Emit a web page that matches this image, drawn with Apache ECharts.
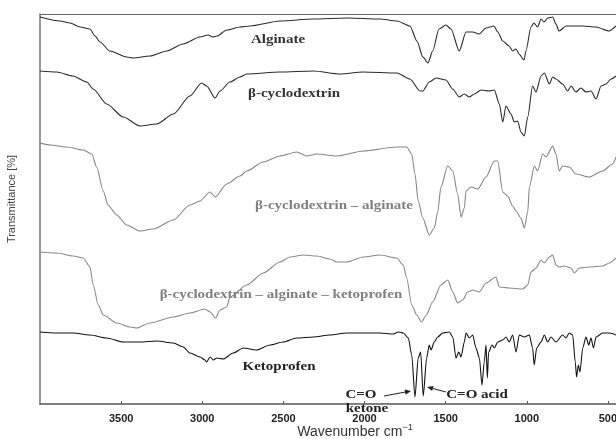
<!DOCTYPE html>
<html>
<head>
<meta charset="utf-8">
<script src="https://cdn.jsdelivr.net/npm/echarts@6/dist/echarts.min.js"></script>
<style>
html,body{margin:0;padding:0;background:#fff;}
#chart{width:616px;height:439px;}
</style>
</head>
<body>
<div id="chart"></div>
<script>
// Wavenumber (cm-1) / relative transmittance (arbitrary offset units)
var tickValues = [3500, 3000, 2500, 2000, 1500, 1000, 500];

var alginate = [[4000,387],[3877,383],[3815,381],[3753,377],[3692,375],[3661,368],[3630,362],[3569,353],[3466,347],[3427,346],[3322,348],[3219,353],[3119,360],[3014,367],[2965,369],[2934,367],[2909,368],[2848,374],[2767,377],[2706,378],[2521,383],[2317,385],[2108,386],[1905,385],[1800,383],[1720,378],[1677,363],[1640,347],[1609,341],[1580,353],[1541,375],[1498,379],[1467,375],[1416,353],[1374,372],[1333,372],[1294,370],[1251,376],[1202,378],[1179,372],[1148,363],[1109,358],[1087,353],[1066,355],[1048,350],[1017,344],[1005,353],[974,377],[956,381],[933,377],[912,385],[894,382],[871,386],[840,387],[820,380],[801,373],[758,378],[655,378],[573,377],[493,373],[450,378]];

var betaCD = [[4000,333],[3897,332],[3797,328],[3712,322],[3672,315],[3589,300],[3487,287],[3384,278],[3281,280],[3178,290],[3076,308],[3004,321],[2973,318],[2921,306],[2891,313],[2829,322],[2767,327],[2726,330],[2521,332],[2317,333],[2151,330],[2009,332],[1800,331],[1720,325],[1658,313],[1641,313],[1601,322],[1559,326],[1498,324],[1457,315],[1416,307],[1385,310],[1354,307],[1323,310],[1282,314],[1231,313],[1200,314],[1169,300],[1148,282],[1128,298],[1097,290],[1077,282],[1056,283],[1036,272],[1015,268],[994,287],[964,318],[943,312],[912,328],[892,331],[861,320],[840,327],[820,325],[779,320],[748,313],[727,318],[697,312],[666,316],[635,312],[604,313],[573,305],[542,318],[512,320],[481,325],[450,328]];

var betaCDAlginate = [[4000,261],[3938,259],[3835,257],[3733,254],[3681,250],[3651,237],[3610,213],[3581,199],[3527,189],[3466,179],[3384,173],[3302,175],[3178,184],[3076,199],[3014,203],[2952,212],[2921,207],[2849,220],[2767,228],[2726,233],[2624,242],[2521,248],[2418,252],[2356,248],[2295,250],[2171,248],[2007,253],[1802,257],[1740,257],[1709,250],[1689,230],[1669,203],[1641,186],[1601,169],[1570,176],[1549,192],[1529,217],[1487,238],[1456,233],[1426,210],[1405,187],[1385,196],[1374,213],[1344,217],[1302,215],[1251,227],[1200,243],[1179,243],[1148,212],[1118,208],[1087,198],[1066,193],[1036,186],[1015,176],[994,192],[984,217],[953,238],[933,233],[902,250],[881,247],[840,258],[820,250],[800,233],[779,238],[738,237],[697,230],[615,227],[532,233],[471,240],[450,247]];

var betaCDAlgKeto = [[4000,152],[3897,151],[3795,148],[3733,146],[3692,137],[3672,119],[3641,99],[3610,89],[3527,81],[3445,77],[3404,76],[3322,81],[3178,87],[3076,91],[2983,95],[2952,92],[2918,86],[2891,94],[2849,97],[2829,107],[2726,119],[2624,131],[2521,142],[2459,147],[2377,149],[2295,148],[2213,145],[2171,142],[2110,142],[2007,147],[1905,149],[1802,146],[1761,139],[1740,126],[1709,99],[1678,89],[1649,82],[1619,89],[1580,102],[1529,119],[1487,124],[1456,112],[1426,101],[1395,104],[1364,112],[1333,114],[1293,112],[1251,121],[1190,127],[1169,117],[1108,116],[1025,115],[994,119],[974,132],[943,136],[912,144],[892,141],[861,147],[840,149],[820,139],[800,137],[769,138],[727,136],[707,131],[676,136],[615,137],[532,138],[491,141],[450,146]];

var ketoprofen = [[4000,72],[3897,71],[3795,71],[3692,69],[3589,66],[3487,62],[3384,62],[3281,63],[3178,61],[3117,57],[3076,51],[3014,47],[2983,44],[2973,42],[2952,47],[2932,44],[2911,46],[2870,45],[2809,51],[2747,56],[2665,54],[2583,59],[2501,62],[2418,66],[2316,67],[2213,69],[2110,71],[2007,71],[1905,71],[1823,70],[1792,72],[1761,71],[1730,66],[1709,49],[1689,7],[1669,46],[1654,52],[1638,8],[1617,46],[1601,59],[1590,54],[1570,62],[1549,67],[1518,71],[1477,72],[1456,67],[1436,46],[1419,52],[1405,47],[1385,62],[1374,71],[1354,66],[1333,69],[1313,56],[1292,46],[1276,19],[1262,42],[1251,59],[1243,26],[1235,52],[1214,59],[1200,56],[1179,62],[1148,64],[1128,67],[1108,62],[1087,69],[1066,52],[1046,69],[1015,67],[984,69],[964,56],[954,39],[939,56],[912,62],[892,69],[871,62],[851,67],[820,62],[779,69],[758,66],[738,71],[717,69],[701,42],[693,27],[682,39],[672,32],[655,56],[635,67],[618,59],[604,66],[589,56],[573,67],[532,71],[491,71],[450,69]];

function arrow(x1, y1, x2, y2) {
  var a = Math.atan2(y2 - y1, x2 - x1), L = 6, W = 2.6;
  var bx = x2 - L * Math.cos(a), by = y2 - L * Math.sin(a);
  var px = -Math.sin(a) * W, py = Math.cos(a) * W;
  return [
    {type:'line', shape:{x1:x1, y1:y1, x2:bx, y2:by}, style:{stroke:'#222', lineWidth:1}, z:10},
    {type:'polygon', shape:{points:[[x2,y2],[bx+px,by+py],[bx-px,by-py]]}, style:{fill:'#222'}, z:10}
  ];
}

var serifB = 'bold 12px "Liberation Serif", "DejaVu Serif", serif';
function label(t, x, y, color) {
  return {type:'text', x:x, y:y, z:10, scaleX:1.25, style:{text:t, fill:color, font:serifB, align:'center', verticalAlign:'middle'}};
}

function spec(data, color) {
  return {type:'line', data:data, showSymbol:false, smooth:0.25, smoothMonotone:'x',
    lineStyle:{color:color, width:1.1}, itemStyle:{color:color}, silent:true, animation:false};
}

var chart = echarts.init(document.getElementById('chart'), null, {renderer:'canvas'});
chart.setOption({
  animation:false,
  backgroundColor:'#fff',
  grid:{left:40, right:0, top:14, bottom:35, containLabel:false, outerBoundsMode:'none'},
  xAxis:[{
    type:'value', inverse:true, min:450, max:4000,
    axisLine:{show:true, lineStyle:{color:'#555', width:1.5}},
    axisTick:{show:true, inside:true, length:3, customValues:tickValues, lineStyle:{color:'#555'}},
    axisLabel:{customValues:tickValues, formatter:function(v){return String(v);}, color:'#222', fontWeight:'bold', fontSize:11, fontFamily:'"Liberation Sans", Arial, sans-serif', margin:9},
    splitLine:{show:false}
  },{
    type:'value', inverse:true, min:450, max:4000, position:'top',
    axisLine:{show:true, lineStyle:{color:'#666', width:1}},
    axisTick:{show:false}, axisLabel:{show:false}, splitLine:{show:false}
  }],
  yAxis:{
    type:'value', min:0, max:390,
    axisLine:{show:true, lineStyle:{color:'#777', width:1.5}},
    axisTick:{show:false}, axisLabel:{show:false}, splitLine:{show:false}
  },
  series:[
    spec(alginate, '#2b2b2b'),
    spec(betaCD, '#2b2b2b'),
    spec(betaCDAlginate, '#858585'),
    spec(betaCDAlgKeto, '#8a8a8a'),
    spec(ketoprofen, '#111')
  ],
  graphic:[
    label('Alginate', 278, 40, '#333'),
    label('β-cyclodextrin', 294, 94, '#333'),
    label('β-cyclodextrin – alginate', 334, 206, '#808080'),
    label('β-cyclodextrin – alginate – ketoprofen', 281, 295, '#808080'),
    label('Ketoprofen', 279, 367, '#222'),
    label('C=O', 361, 395, '#222'),
    label('ketone', 367, 409, '#222'),
    label('C=O acid', 477, 395, '#222'),
    {type:'text', x:12, y:199, rotation:Math.PI/2, z:10,
      style:{text:'Transmittance [%]', fill:'#444', font:'11px "Liberation Sans", Arial, sans-serif', align:'center', verticalAlign:'middle'}},
    {type:'text', x:355, y:432, z:10,
      style:{text:'{a|Wavenumber cm}{s|−1}', fill:'#333', align:'center', verticalAlign:'middle',
        rich:{a:{fontSize:14, fontFamily:'"Liberation Sans", Arial, sans-serif', fill:'#333', color:'#333'},
              s:{fontSize:9, fontFamily:'"Liberation Sans", Arial, sans-serif', fill:'#333', color:'#333', verticalAlign:'top', padding:[0,0,8,0]}}}}
  ].concat(arrow(384, 396, 411, 391)).concat(arrow(446, 392, 427, 387))
});
</script>
</body>
</html>
